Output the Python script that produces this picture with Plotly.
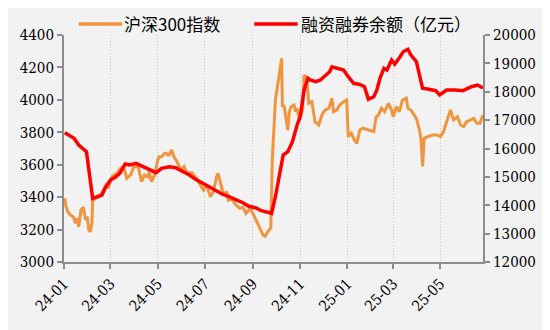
import plotly.graph_objects as go

# 沪深300指数 (left axis)
csi_dates = [
    "2024-01-02","2024-01-03","2024-01-06","2024-01-09","2024-01-13","2024-01-16","2024-01-18","2024-01-20",
    "2024-01-23","2024-01-26","2024-01-29","2024-01-31","2024-02-02","2024-02-04","2024-02-06","2024-02-07",
    "2024-02-10","2024-02-15","2024-02-21","2024-02-25","2024-02-27","2024-03-03","2024-03-09","2024-03-14",
    "2024-03-18","2024-03-22","2024-03-27","2024-03-31","2024-04-06","2024-04-10","2024-04-14","2024-04-18",
    "2024-04-20","2024-04-23","2024-04-27","2024-05-01","2024-05-03","2024-05-06","2024-05-10","2024-05-12",
    "2024-05-14","2024-05-16","2024-05-19","2024-05-22","2024-05-26","2024-05-31","2024-06-04","2024-06-08",
    "2024-06-14","2024-06-20","2024-06-25","2024-06-29","2024-07-03","2024-07-08","2024-07-12","2024-07-16",
    "2024-07-18","2024-07-20","2024-07-25","2024-07-29","2024-07-31","2024-08-04","2024-08-10","2024-08-15",
    "2024-08-19","2024-08-23","2024-08-28","2024-09-01","2024-09-05","2024-09-09","2024-09-14","2024-09-17",
    "2024-09-20","2024-09-24","2024-09-25","2024-09-26","2024-09-30","2024-10-08","2024-10-09","2024-10-11",
    "2024-10-14","2024-10-16","2024-10-18","2024-10-20","2024-10-24","2024-10-26","2024-10-28","2024-10-31",
    "2024-11-04","2024-11-06","2024-11-08","2024-11-10","2024-11-12","2024-11-16","2024-11-20","2024-11-25",
    "2024-11-29","2024-12-03","2024-12-08","2024-12-12","2024-12-14","2024-12-18","2024-12-22","2024-12-27",
    "2024-12-31","2025-01-02","2025-01-06","2025-01-10","2025-01-13","2025-01-17","2025-01-21","2025-01-27",
    "2025-02-04","2025-02-07","2025-02-10","2025-02-14","2025-02-18","2025-02-23","2025-02-27","2025-03-01",
    "2025-03-05","2025-03-09","2025-03-13","2025-03-18","2025-03-20","2025-03-24","2025-03-31","2025-04-04",
    "2025-04-06","2025-04-08","2025-04-10","2025-04-15","2025-04-21","2025-04-27","2025-05-01","2025-05-05",
    "2025-05-10","2025-05-14","2025-05-18","2025-05-23","2025-05-27","2025-05-31","2025-06-04","2025-06-08",
    "2025-06-13","2025-06-17","2025-06-21","2025-06-25",
]
csi_values = [
    3393,3352,3310,3290,3279,3239,3270,3218,
    3321,3337,3259,3279,3197,3187,3239,3372,
    3393,3399,3444,3485,3454,3526,3547,3578,
    3588,3516,3537,3588,3588,3495,3537,3526,
    3557,3495,3537,3629,3649,3649,3670,3670,
    3660,3660,3691,3649,3619,3567,3588,3547,
    3551,3516,3475,3444,3475,3403,3434,3526,
    3547,3506,3413,3434,3382,3393,3352,3331,
    3337,3300,3331,3300,3259,3218,3166,3160,
    3187,3208,3403,3640,3999,4256,3958,3968,
    3876,3814,3927,3958,3968,3927,3948,3876,
    3937,4153,4143,4102,3979,3989,3865,3845,
    3907,3937,3948,4010,3927,3937,3968,3989,
    3999,3773,3794,3752,3732,3814,3825,3814,
    3804,3896,3907,3948,3927,3979,3937,3896,
    3958,3927,3999,4010,3948,3937,3886,3814,
    3752,3590,3763,3773,3783,3783,3773,3804,
    3876,3937,3876,3896,3845,3835,3865,3876,
    3886,3855,3855,3907,
]

# 融资融券余额（亿元） (right axis)
margin_dates = [
    "2024-01-02","2024-01-14","2024-01-20","2024-01-26","2024-01-30","2024-02-07","2024-02-19","2024-02-23",
    "2024-03-01","2024-03-07","2024-03-13","2024-03-20","2024-03-26","2024-04-03","2024-04-12","2024-04-18",
    "2024-04-29","2024-05-06","2024-05-16","2024-05-24","2024-06-03","2024-06-11","2024-06-19","2024-06-28",
    "2024-07-05","2024-07-15","2024-07-23","2024-08-01","2024-08-09","2024-08-19","2024-08-26","2024-09-04",
    "2024-09-12","2024-09-20","2024-09-25","2024-09-30","2024-10-10","2024-10-16","2024-10-22","2024-10-28",
    "2024-11-01","2024-11-06","2024-11-11","2024-11-14","2024-11-21","2024-11-27","2024-12-02","2024-12-09",
    "2024-12-12","2024-12-18","2024-12-27","2025-01-02","2025-01-09","2025-01-17","2025-01-23","2025-01-28",
    "2025-02-04","2025-02-08","2025-02-12","2025-02-17","2025-02-21","2025-02-27","2025-03-03","2025-03-10",
    "2025-03-14","2025-03-20","2025-03-24","2025-03-31","2025-04-03","2025-04-08","2025-04-16","2025-04-25",
    "2025-04-30","2025-05-09","2025-05-20","2025-05-30","2025-06-10","2025-06-18","2025-06-25",
]
margin_values = [
    16557,16359,16123,15972,15887,14245,14361,14597,
    14890,14985,15126,15454,15418,15478,15358,15267,
    15147,15302,15358,15323,15182,15066,14914,14773,
    14654,14502,14396,14301,14210,14090,13973,13914,
    13808,13737,13716,14301,15771,15887,16239,16828,
    17120,18061,18474,18414,18354,18414,18530,18706,
    18882,18826,18766,18530,18297,18255,18177,17733,
    17825,18061,18474,18826,18766,19118,18977,19235,
    19411,19496,19294,19059,18650,18121,18086,18037,
    17885,18061,18061,18037,18177,18237,18132,
]

tick_vals = ["2024-01-01","2024-03-01","2024-05-01","2024-07-01","2024-09-01",
             "2024-11-01","2025-01-01","2025-03-01","2025-05-01"]
tick_text = ["24-01","24-03","24-05","24-07","24-09","24-11","25-01","25-03","25-05"]

ORANGE = "#F0953E"
RED = "#FF0000"
BG = "#F2F2F2"
AXIS = "#8C8C8C"
serif = "DejaVu Serif Condensed"
cjk = "Noto Sans CJK SC"

fig = go.Figure()
fig.add_trace(go.Scatter(x=csi_dates, y=csi_values, mode="lines", name="沪深300指数",
                         line=dict(color=ORANGE, width=3), yaxis="y", showlegend=False))
fig.add_trace(go.Scatter(x=margin_dates, y=margin_values, mode="lines", name="融资融券余额（亿元）",
                         line=dict(color=RED, width=3.5), yaxis="y2", showlegend=False))

fig.update_layout(
    width=542, height=322,
    margin=dict(l=50, r=67, t=27, b=68),
    paper_bgcolor=BG, plot_bgcolor=BG,
    xaxis=dict(type="date", range=["2024-01-01", "2025-06-25"],
               tickmode="array", tickvals=tick_vals, ticktext=tick_text, tickangle=-45,
               showgrid=True, gridcolor="#C4C4C4", griddash="1px,2px", gridwidth=1,
               showline=True, linecolor=AXIS, linewidth=2,
               ticks="outside", ticklen=5, tickcolor=AXIS, tickwidth=1.5,
               tickfont=dict(family=serif, size=15, color="#000"), zeroline=False),
    yaxis=dict(range=[3000, 4400], dtick=200, tick0=3000,
               showgrid=False, zeroline=False,
               showline=True, linecolor=AXIS, linewidth=2,
               ticks="outside", ticklen=5, tickcolor=AXIS, tickwidth=1.5,
               tickfont=dict(family=serif, size=15, color="#000")),
    yaxis2=dict(range=[12000, 20000], dtick=1000, tick0=12000, overlaying="y", side="right",
                tickformat="d",
                showgrid=False, zeroline=False,
                showline=True, linecolor=AXIS, linewidth=2,
                ticks="outside", ticklen=5, tickcolor=AXIS, tickwidth=1.5,
                tickfont=dict(family=serif, size=15, color="#000")),
)

def px_x(x):
    return (x - 58) / 425

def px_y(y):
    return (262 - y) / 227

legend_items = [("沪深300指数", ORANGE, 73, 117, 117), ("融资融券余额（亿元）", RED, 251, 295, 296)]
for label, color, x0, x1, xt in legend_items:
    fig.add_shape(type="line", xref="paper", yref="paper",
                  x0=px_x(x0), x1=px_x(x1), y0=px_y(24), y1=px_y(24),
                  line=dict(color=color, width=3.5))
    fig.add_annotation(text=label, xref="paper", yref="paper",
                       x=px_x(xt), y=px_y(23),
                       xanchor="left", yanchor="middle", showarrow=False,
                       font=dict(family=cjk, size=17, color="#000"))

fig.write_html("out.html")
